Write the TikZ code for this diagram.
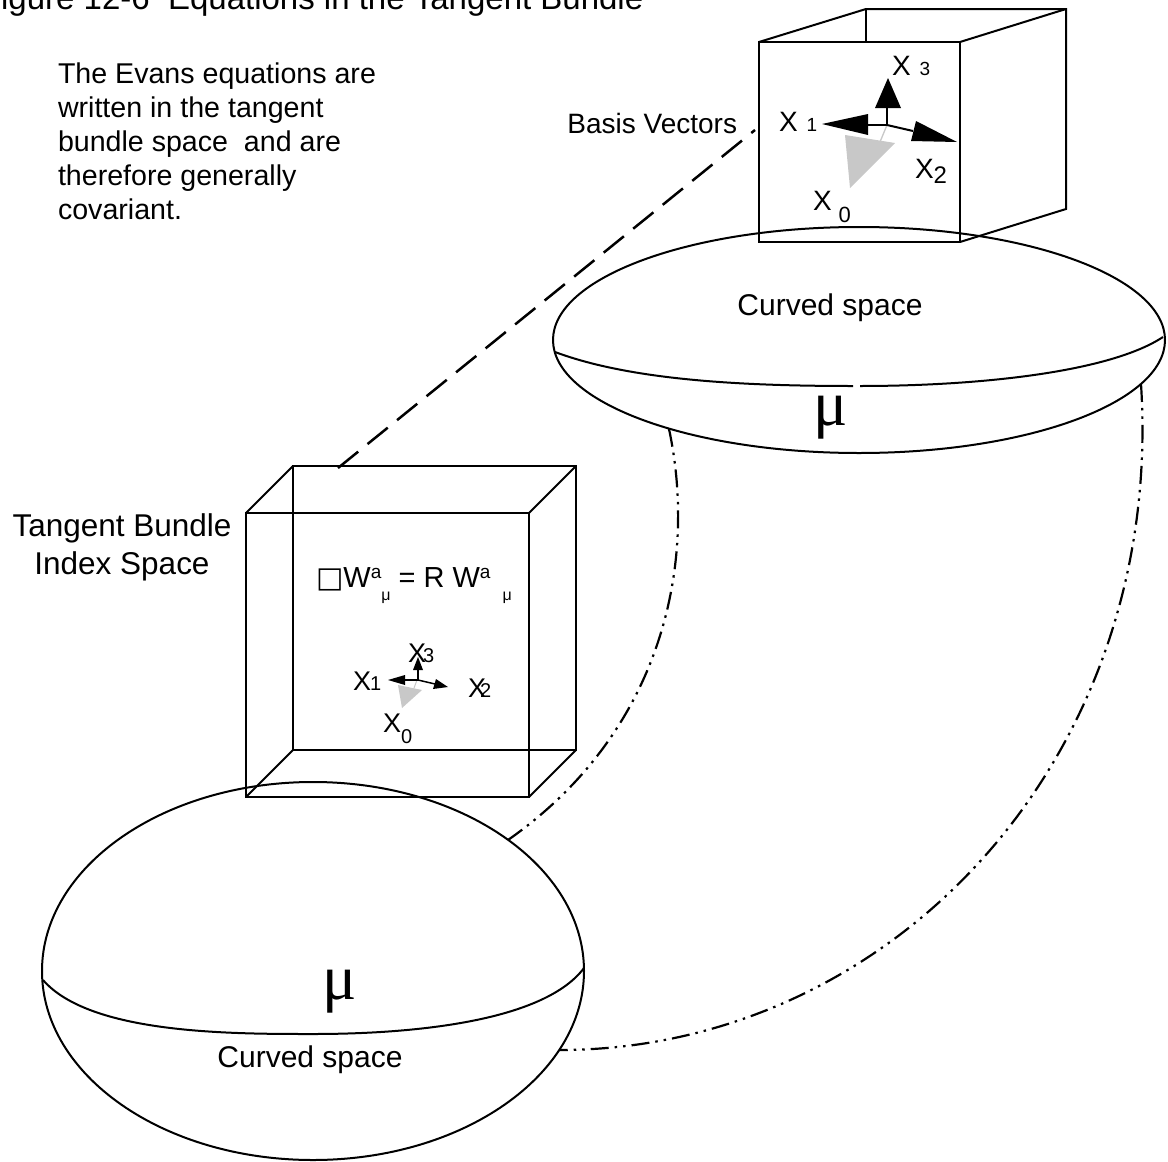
\documentclass[tikz,border=0pt]{standalone}
\usepackage{fontspec}
\setmainfont{Liberation Sans}
\newfontfamily\serifmu{Liberation Serif}
\newfontfamily\dejavu{DejaVu Sans}
\definecolor{lgray}{RGB}{200,200,200}
\newcommand{\fsz}[2]{\fontsize{#1}{#2}\selectfont}
\begin{document}
\begin{tikzpicture}[x=1pt,y=-1pt,
  ln/.style={line width=2pt, line join=miter},
  lbl/.style={inner sep=0pt, outer sep=0pt},
  dashdottwo/.style={line width=2.2pt, dash pattern=on 18pt off 6pt on 2.5pt off 6pt on 2.5pt off 6pt},
  longdash/.style={line width=2.5pt, dash pattern=on 26pt off 12pt},
  headblk/.style={fill=black, draw=none},
  headgray/.style={fill=lgray, draw=none}]
\useasboundingbox (0,0) rectangle (1168,1162);
\clip (0,0) rectangle (1168,1162);
\fill[white] (0,0) rectangle (1168,1162);

% title and texts
\node[lbl, anchor=base west] (title) at (-19,9) {\fsz{33}{33}Figure 12-6~ Equations in the Tangent Bundle};
\node[lbl, anchor=north west, align=left, font=\fsz{28.6}{34}] (evans) at (58,63) {The Evans equations are\\written in the tangent\\bundle space~ and are\\therefore generally\\covariant.};
\node[lbl, anchor=base east] (basis) at (737,133) {\fsz{28}{28}Basis Vectors};
\node[lbl, anchor=north, align=center, font=\fsz{31.5}{38}] (tbis) at (122,514) {Tangent Bundle\\Index Space};

% top box (front face opaque)
\coordinate (tfa) at (759,42); \coordinate (tfb) at (960,42);
\coordinate (tfc) at (960,242); \coordinate (tfd) at (759,242);
\coordinate (tba) at (866,9); \coordinate (tbb) at (1066,9);
\coordinate (tbc) at (1066,209);
\draw[ln] (tfa) -- (tba) -- (tbb) -- (tbc) -- (tfc);
\draw[ln] (tbb) -- (tfb);
\draw[ln] (tba) -- (866,42);
\draw[ln, fill=white] (tfa) -- (tfb) -- (tfc) -- (tfd) -- cycle;

% left box (wireframe)
\coordinate (lfa) at (246,513); \coordinate (lfb) at (529,513);
\coordinate (lfc) at (529,797); \coordinate (lfd) at (246,797);
\coordinate (lba) at (293,466); \coordinate (lbb) at (576,466);
\coordinate (lbc) at (576,750); \coordinate (lbd) at (293,750);
\draw[ln] (lfa) -- (lfb) -- (lfc) -- (lfd) -- cycle;
\draw[ln] (lba) -- (lbb) -- (lbc) -- (lbd) -- cycle;
\draw[ln] (lfa) -- (lba) (lfb) -- (lbb) (lfc) -- (lbc) (lfd) -- (lbd);

% top ellipse
\draw[ln] (859,340) ellipse [x radius=306, y radius=113];
\draw[ln] (555,352) .. controls (630,380) and (740,386) .. (853,386);
\draw[ln] (860,386) .. controls (980,386) and (1110,372) .. (1163,337);
\node[lbl, anchor=center] (cs1) at (830,308) {\fsz{30}{30}Curved space};
\node[lbl, anchor=base west] (mu1) at (813,425) {\serifmu\fsz{64}{64}μ};

% bottom ellipse
\draw[ln] (313,971) ellipse [x radius=271, y radius=189];
\draw[ln] (43,980) .. controls (90,1034) and (230,1034) .. (313,1034) .. controls (420,1034) and (545,1020) .. (584,968);
\node[lbl, anchor=center] (cs2) at (310,1060) {\fsz{30}{30}Curved space};
\node[lbl, anchor=base west] (mu2) at (322,999) {\serifmu\fsz{64}{64}μ};

% connectors
\coordinate (dashA) at (338,468);
\coordinate (dashB) at (755,130);
\draw[longdash] (dashA) -- (dashB);
\coordinate (ddA1) at (669,429); \coordinate (ddB1) at (508,840);
\draw[dashdottwo] (ddA1) .. controls (697,560) and (665,730) .. (ddB1);
\coordinate (ddA2) at (1141,384); \coordinate (ddB2) at (559,1050);
\draw[dashdottwo] (ddA2) .. controls (1165,760) and (890,1050) .. (ddB2);

% basis vectors (top box)
\coordinate (o1) at (887,125);
\draw[line width=1.3pt, lgray] (o1) -- (880,142);
\fill[headgray] (845,135) -- (895,143) -- (850,188) -- cycle;
\draw[line width=2pt] (887,108) -- (o1) -- (868,125);
\draw[line width=2pt] (o1) -- (913,131);
\fill[headblk] (875,108) -- (901,108) -- (888,78) -- cycle;
\fill[headblk] (868,114) -- (868,135) -- (822,124) -- cycle;
\fill[headblk] (911,141) -- (916,121) -- (957,142) -- cycle;
\node[lbl, anchor=base west] (x1t) at (779,131) {\fsz{28}{28}X\hspace{9pt}\fsz{19}{19}1};
\node[lbl, anchor=base west] (x3t) at (892,75) {\fsz{28}{28}X\hspace{9pt}\fsz{19}{19}3};
\node[lbl, anchor=base west] (x2t) at (915,178) {\fsz{28}{28}X\raisebox{-5pt}{\fsz{24}{24}2}};
\node[lbl, anchor=base west] (x0t) at (813,210) {\fsz{28}{28}X\hspace{7pt}\raisebox{-12pt}{\fsz{22}{22}0}};

% equation and small vectors (left box)
\node[lbl, anchor=base west] (eqn) at (316,587) {\fsz{29}{29}{\dejavu □}W\raisebox{9pt}{\fsz{19}{19}a}\raisebox{-13pt}{\fsz{16}{16}μ} = R W\raisebox{9pt}{\fsz{19}{19}a}\hspace{12pt}\raisebox{-13pt}{\fsz{16}{16}μ}};
\coordinate (o2) at (417,680);
\draw[line width=1pt, lgray] (o2) -- (414,688);
\fill[headgray] (398,685) -- (422,690) -- (402,708) -- cycle;
\draw[line width=1.5pt] (418,670) -- (418,680) -- (405,680);
\draw[line width=1.5pt] (418,680) -- (435,684);
\fill[headblk] (413,670) -- (423,670) -- (418,657) -- cycle;
\fill[headblk] (405,675) -- (405,685) -- (388,680) -- cycle;
\fill[headblk] (433,689) -- (436,679) -- (448,687) -- cycle;
\node[lbl, anchor=base west] (x1l) at (353,690) {\fsz{27}{27}X\hspace{-1pt}\fsz{20}{20}1};
\node[lbl, anchor=base west] (x3l) at (408,662) {\fsz{27}{27}X\hspace{-3pt}\fsz{20}{20}3};
\node[lbl, anchor=base west] (x2l) at (468,697) {\fsz{27}{27}X\hspace{-6pt}\fsz{20}{20}2};
\node[lbl, anchor=base west] (x0l) at (383,732) {\fsz{27}{27}X\raisebox{-11pt}{\fsz{20}{20}0}};
\end{tikzpicture}
\end{document}
